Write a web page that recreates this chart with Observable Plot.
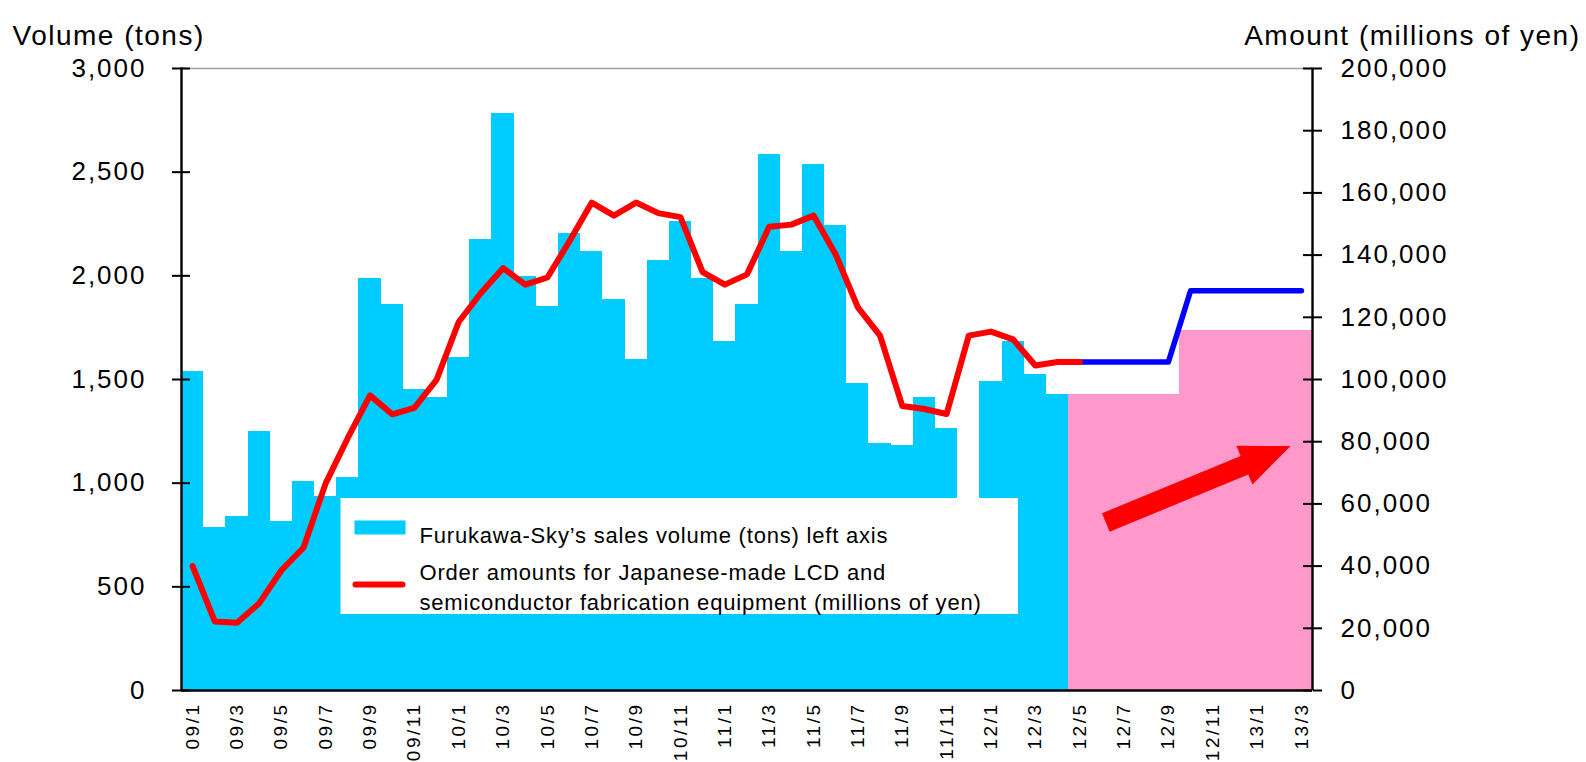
<!DOCTYPE html>
<html>
<head>
<meta charset="utf-8">
<script src="https://cdn.jsdelivr.net/npm/d3@7"></script>
<script src="https://cdn.jsdelivr.net/npm/@observablehq/plot@0.6"></script>
<style>
  html, body { margin: 0; padding: 0; background: #fff; }
  #chart svg { display: block; }
  #chart g[aria-label="y-axis tick label"] text { letter-spacing: 2px; }
  #chart g[aria-label="x-axis tick label"] text { letter-spacing: 2.5px; }
  #chart .title text { letter-spacing: 1.5px; }
  #chart .legend text { letter-spacing: 0.8px; }
</style>
</head>
<body>
<div id="chart"></div>
<script>
// ---- data ----
const months = [
  "09/1","09/2","09/3","09/4","09/5","09/6","09/7","09/8","09/9","09/10","09/11","09/12",
  "10/1","10/2","10/3","10/4","10/5","10/6","10/7","10/8","10/9","10/10","10/11","10/12",
  "11/1","11/2","11/3","11/4","11/5","11/6","11/7","11/8","11/9","11/10","11/11","11/12",
  "12/1","12/2","12/3","12/4","12/5","12/6","12/7","12/8","12/9","12/10","12/11","12/12",
  "13/1","13/2","13/3"
];
// Furukawa-Sky sales volume (tons), 09/1 .. 12/4
const salesVolume = [
  1540, 787, 839, 1250, 815, 1009, 935, 1029, 1989, 1861, 1454, 1412,
  1606, 2177, 2782, 1997, 1853, 2205, 2117, 1887, 1598, 2073, 2261, 1989,
  1684, 1861, 2586, 2117, 2536, 2245, 1480, 1190, 1180, 1412, 1264, 880,
  1488, 1684, 1522, 1428
];
// forecast volume (tons), 12/5 .. 13/3
const forecastMonths = ["12/5","12/6","12/7","12/8","12/9","12/10","12/11","12/12","13/1","13/2","13/3"];
const forecastVolume = [1428, 1428, 1428, 1428, 1428, 1738, 1738, 1738, 1738, 1738, 1738];
// order amounts (millions of yen), 09/1 .. 12/5
const orderAmount = [
  40000, 22200, 21800, 28000, 38600, 45900, 66600, 81200, 94900, 88800, 90900, 99900,
  118500, 127800, 135800, 130500, 132800, 144500, 156900, 152700, 156900, 153500, 152200, 134500,
  130500, 133800, 149100, 149800, 152700, 140200, 123200, 114100, 91500, 90500, 88900, 114100,
  115400, 112900, 104500, 105600, 105600
];
// forecast order amounts (millions of yen), 12/5 .. 13/3
const forecastAmount = [105600, 105600, 105600, 105600, 105600, 128500, 128500, 128500, 128500, 128500, 128500];

const xTickLabels = months.filter((d, i) => i % 2 === 0);
const leftTicks = [0, 500, 1000, 1500, 2000, 2500, 3000];
const rightTicks = [0, 20000, 40000, 60000, 80000, 100000, 120000, 140000, 160000, 180000, 200000];
const leftTitle = "Volume (tons)";
const rightTitle = "Amount (millions of yen)";
const legendLabels = [
  "Furukawa-Sky\u2019s sales volume (tons) left axis",
  "Order amounts for Japanese-made LCD and",
  "semiconductor fabrication equipment (millions of yen)"
];

// ---- tables ----
const k = 3000 / 200000; // right-axis units -> left-axis units
const salesTable = salesVolume.map((v, i) => ({month: months[i], v}));
const forecastVolTable = forecastVolume.map((v, i) => ({month: forecastMonths[i], v}));
const orderTable = orderAmount.map((v, i) => ({month: months[i], v}));
const forecastAmtTable = forecastAmount.map((v, i) => ({month: forecastMonths[i], v}));

// ---- layout ----
const W = 1586, H = 762;
const mL = 181, mR = 274, mT = 68, mB = 72;
const pw = W - mL - mR, ph = H - mT - mB;
const font = '"Liberation Sans", Arial, Helvetica, sans-serif';

function box(x0, y0, x1, y1) { // pixel box -> frame insets
  return {insetLeft: x0 - mL, insetRight: (W - mR) - x1, insetTop: y0 - mT, insetBottom: (H - mB) - y1};
}

const arrowShape = {
  draw(ctx, l) {
    const hl = 50, hw = 21, sw = 10;
    ctx.moveTo(-sw, 0);
    ctx.lineTo(-sw, -(l - hl));
    ctx.lineTo(-hw, -(l - hl));
    ctx.lineTo(0, -l);
    ctx.lineTo(hw, -(l - hl));
    ctx.lineTo(sw, -(l - hl));
    ctx.lineTo(sw, 0);
    ctx.closePath();
  }
};

const fmt = d3.format(",");

const chart = Plot.plot({
  width: W, height: H,
  marginLeft: mL, marginRight: mR, marginTop: mT, marginBottom: mB,
  style: {fontFamily: font, background: "white", color: "black", overflow: "visible"},
  x: {type: "band", domain: months, padding: 0, round: false},
  y: {domain: [0, 3000]},
  marks: [
    Plot.ruleY([3000], {stroke: "#a0a0a0", strokeWidth: 1.5}),
    Plot.barY(salesTable, {x: "month", y: "v", fill: "#00CCFF", shapeRendering: "crispEdges"}),
    Plot.barY(forecastVolTable, {x: "month", y: "v", fill: "#FF99CC", shapeRendering: "crispEdges"}),
    // legend box
    Plot.frame({fill: "white", stroke: "none", ...box(340, 497.5, 1017.5, 613.5)}),
    // lines
    Plot.lineY(forecastAmtTable, {x: "month", y: d => d.v * k, stroke: "#0000FF", strokeWidth: 5.5, strokeLinejoin: "round", strokeLinecap: "round"}),
    Plot.lineY(orderTable, {x: "month", y: d => d.v * k, stroke: "#FF0000", strokeWidth: 6, strokeLinejoin: "round", strokeLinecap: "round"}),
    // arrow annotation
    Plot.vector([{month: "12/6", v: 810}], {x: "month", y: "v", dx: 4, length: 200, rotate: 67.5, anchor: "start", shape: arrowShape, fill: "#FF0000", stroke: "none"}),
    // axes
    Plot.axisY({anchor: "left", ticks: leftTicks, tickFormat: fmt, tickSize: 9, tickPadding: 26, fontSize: 26, strokeWidth: 2, label: null}),
    Plot.axisY({anchor: "right", ticks: rightTicks.map(v => v * k), tickFormat: d => fmt(Math.round(d / k)), tickSize: 9, tickPadding: 19, fontSize: 26, strokeWidth: 2, label: null}),
    Plot.ruleY(leftTicks, {stroke: "black", strokeWidth: 2, insetRight: pw - 9}),
    Plot.ruleY(rightTicks.map(v => v * k), {stroke: "black", strokeWidth: 2, insetLeft: pw - 9}),
    // axis lines
    Plot.frame({fill: "black", stroke: "none", insetLeft: -1.2, insetRight: pw - 1.2, insetTop: -1}),
    Plot.frame({fill: "black", stroke: "none", insetLeft: pw - 1.2, insetRight: -1.2, insetTop: -1}),
    Plot.ruleY([0], {stroke: "black", strokeWidth: 2.5}),
    Plot.axisX({ticks: xTickLabels, tickRotate: -90, tickSize: 0, tickPadding: 12, fontSize: 19, label: null}),
    // titles
    Plot.text([leftTitle], {text: d => d, frameAnchor: "top-left", textAnchor: "start", dx: 12 - mL, dy: -43, fontSize: 28, className: "title"}),
    Plot.text([rightTitle], {text: d => d, frameAnchor: "top-right", textAnchor: "end", dx: 1580 - (W - mR), dy: -43, fontSize: 28, className: "title"}),
    // legend swatches
    Plot.frame({fill: "#00CCFF", stroke: "none", ...box(354, 520, 405, 534)}),
    Plot.frame({fill: "#FF0000", stroke: "none", rx: 3, ...box(352, 581, 405, 587)}),
    // legend labels
    Plot.text([legendLabels[0]], {text: d => d, frameAnchor: "top-left", textAnchor: "start", dx: 419 - mL, dy: 527 - mT, fontSize: 22, className: "legend"}),
    Plot.text([legendLabels[1]], {text: d => d, frameAnchor: "top-left", textAnchor: "start", dx: 419 - mL, dy: 564 - mT, fontSize: 22, className: "legend"}),
    Plot.text([legendLabels[2]], {text: d => d, frameAnchor: "top-left", textAnchor: "start", dx: 419 - mL, dy: 594 - mT, fontSize: 22, className: "legend"})
  ]
});
document.getElementById("chart").appendChild(chart);
</script>
</body>
</html>
